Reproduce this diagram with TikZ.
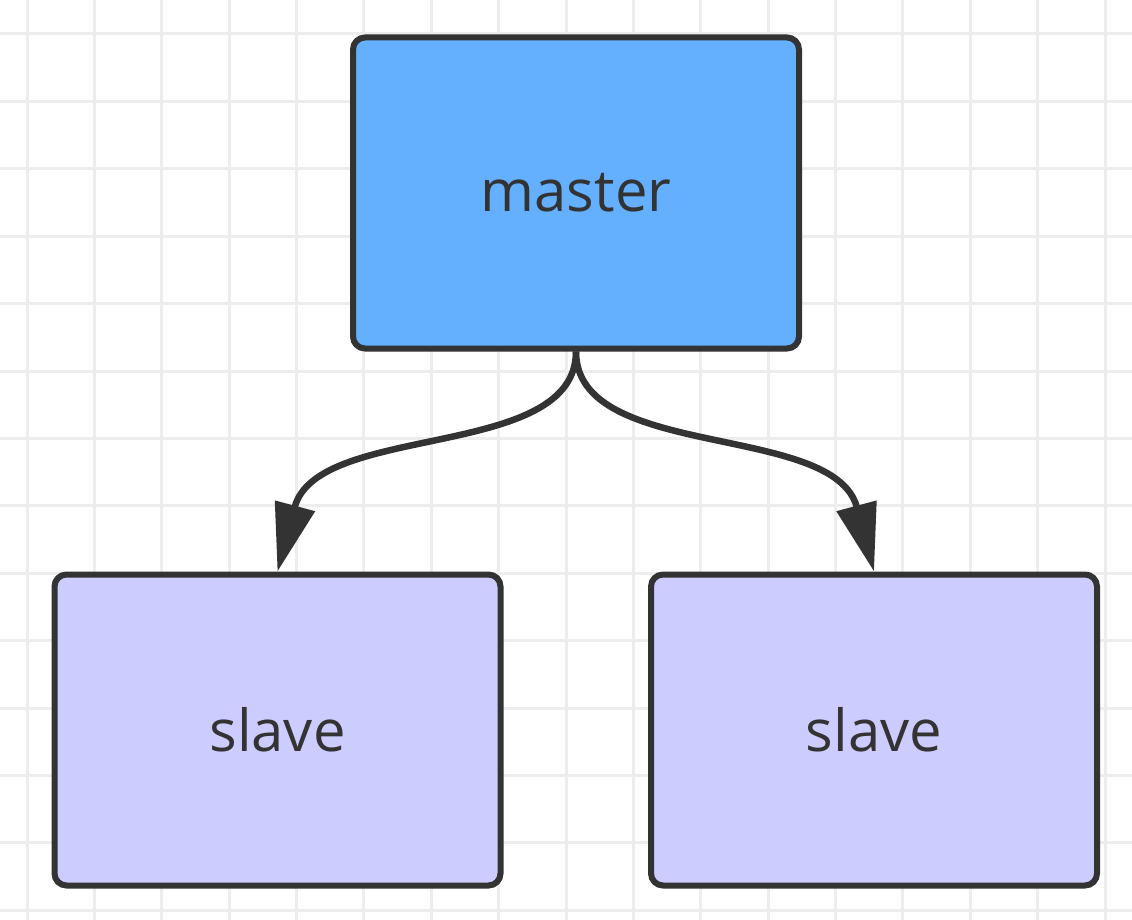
\documentclass[tikz,border=0pt]{standalone}
\usepackage{fontspec}
\setmainfont{Open Sans}
\usetikzlibrary{arrows.meta}
\definecolor{gridc}{HTML}{EDEDED}
\definecolor{edgec}{HTML}{333333}
\definecolor{masterfill}{HTML}{64B0FF}
\definecolor{slavefill}{HTML}{CCCCFF}
\tikzset{
  box/.style={draw=edgec, line width=6pt, rounded corners=12pt,
    minimum width=446pt, minimum height=311pt, inner sep=0pt,
    text=edgec, font=\fontsize{58}{62}\selectfont},
  masterbox/.style={box, fill=masterfill},
  slavebox/.style={box, fill=slavefill},
  conn/.style={draw=edgec, line width=6.5pt,
    -{Triangle[length=68pt, width=40pt]}},
  gridline/.style={draw=gridc, line width=3pt}
}
\begin{document}
\begin{tikzpicture}[x=1pt, y=-1pt]
  \useasboundingbox (0,0) rectangle (1132,920);
  \fill[white] (0,0) rectangle (1132,920);
  % background grid
  \foreach \k in {0,...,16}
    \draw[gridline] ({27+67.375*\k},0) -- ({27+67.375*\k},920);
  \foreach \k in {0,...,13}
    \draw[gridline] (0,{34+67.4*\k}) -- (1132,{34+67.4*\k});
  % nodes
  \node[masterbox] (m) at (576,193) {master};
  \node[slavebox] (s1) at (277.5,730) {slave};
  \node[slavebox] (s2) at (874,730) {slave};
  % connectors
  \draw[conn] (m.south) .. controls +(0,110) and +(40,-150) .. (s1.north);
  \draw[conn] (m.south) .. controls +(0,110) and +(-40,-150) .. (s2.north);
\end{tikzpicture}
\end{document}
